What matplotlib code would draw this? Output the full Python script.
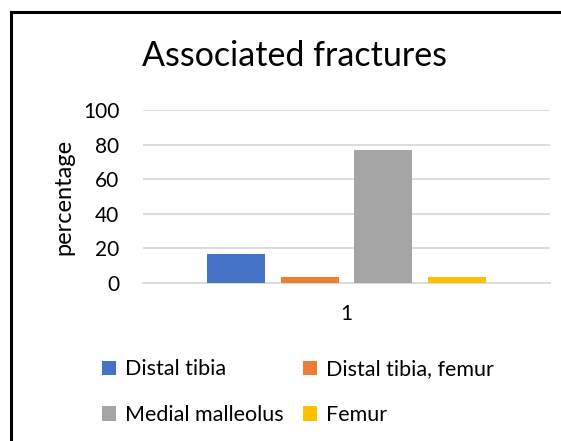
import matplotlib.pyplot as plt
from matplotlib.lines import Line2D

# datos
categorias = ["1"]
series = ["Distal tibia", "Distal tibia, femur", "Medial malleolus", "Femur"]
valores = [16.7, 3.3, 76.7, 3.3]
colores = ["#4472C4", "#ED7D31", "#A5A5A5", "#FFC000"]
yticks = [0, 20, 40, 60, 80, 100]

plt.rcParams['font.family'] = ['Lato', 'DejaVu Sans']

fig = plt.figure(figsize=(5.61, 4.41), dpi=100)
ax = fig.add_axes([143/561, 1 - 283/441, (550-143)/561, (283-110)/441])

ancho = 0.1425
paso = 0.1815
barras = []
for i, (nombre, v, c) in enumerate(zip(series, valores, colores)):
    b = ax.bar(1 + (i - 1.5) * paso, v, width=ancho, color=c, label=nombre, zorder=3)
    barras.append(b)

ax.set_xlim(0.5, 1.5)
ax.set_ylim(0, 100)
ax.set_xticks([1])
ax.set_xticklabels(categorias)
ax.set_yticks(yticks)
ax.tick_params(axis='both', length=0, labelsize=15, colors='black')
ax.tick_params(axis='y', pad=17)
ax.tick_params(axis='x', pad=15)
ax.grid(axis='y', color='#d9d9d9', linewidth=1.3, zorder=0)
for s in ['top', 'right', 'left']:
    ax.spines[s].set_visible(False)
ax.spines['bottom'].set_color('#d9d9d9')
ax.spines['bottom'].set_linewidth(1.3)
ax.set_ylabel('percentage', fontsize=17, labelpad=6)

fig.text(295/561, 1 - 56/441, 'Associated fractures', fontsize=24.5, ha='center', va='center')

orden = [0, 2, 1, 3]
fig.legend([barras[k] for k in orden], [series[k] for k in orden],
           ncol=2, loc='upper left', bbox_to_anchor=(83/561, 1 - 340/441),
           frameon=False, fontsize=15.5, handlelength=0.65, handleheight=0.65,
           handletextpad=0.4, columnspacing=0.9, labelspacing=1.2)

# marco del grafico
fig.add_artist(Line2D([10.5/561, 10.5/561], [0, 1 - 12/441], color='black', linewidth=2.2))
fig.add_artist(Line2D([10.5/561, 1], [1 - 12/441, 1 - 12/441], color='black', linewidth=2.2))

fig.savefig('out.png', dpi=100)
